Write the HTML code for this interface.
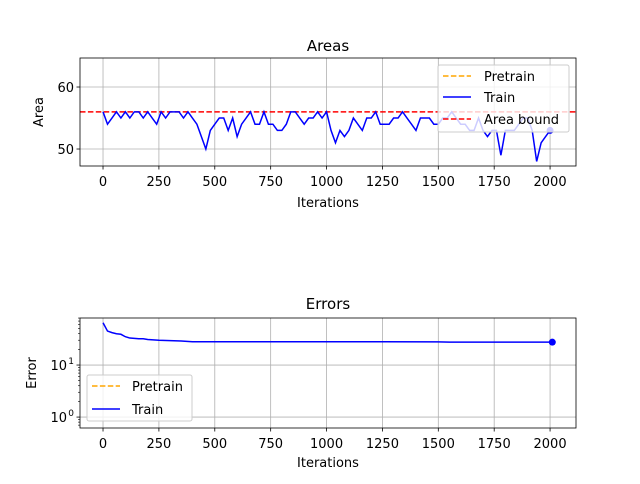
<!DOCTYPE html>
<html><head><meta charset="utf-8"><style>
body{margin:0;background:#fff;font-family:"DejaVu Sans","Liberation Sans",sans-serif}
svg text{font-family:"DejaVu Sans","Liberation Sans",sans-serif;fill:#000}
</style></head><body>
<svg id="c" width="640" height="480" xmlns="http://www.w3.org/2000/svg"></svg>
<script>
const areaIters=[];for(let i=0;i<=100;i++)areaIters.push(i*20);
const areaValues=[56,54,55,56,55,56,55,56,56,55,56,55,54,56,55,56,56,56,55,56,55,54,52,50,53,54,55,55,53,55,52,54,55,56,54,54,56,54,54,53,53,54,56,56,55,54,55,55,56,55,56,53,51,53,52,53,55,54,53,55,55,56,54,54,54,55,55,56,55,54,53,55,55,55,54,54,55,55,56,55,54,54,53,53,55,53,52,53,53,49,53,53,53,54,55,55,53,48,51,52,53];
const areaBound=56;
const errIters=[0,20,40,60,80,100,120,140,160,180,200,250,300,350,400,450,500,750,1000,1250,1500,1550,1750,2000,2010];
const errValues=[65,45,42,40,39,35,33,32.5,32,32,31,30,29.5,29,28,28,28,28,28,28,27.8,27.5,27.5,27.5,27.5];
const xTicks=[0,250,500,750,1000,1250,1500,1750,2000];
const areaYTicks=[50,60];
const errYTicks=[0,1];
const NS="http://www.w3.org/2000/svg";const svg=document.getElementById('c');
function el(t,a,p){const e=document.createElementNS(NS,t);for(const k in a)e.setAttribute(k,a[k]);(p||svg).appendChild(e);return e;}
function txt(x,y,s,a,p,fs){const e=el('text',Object.assign({x:x,y:y},a||{}),p);e.style.fontSize=(fs||13)+'px';e.textContent=s;return e;}
const L=80,R=576;const xmin=-103,xmax=2116;
const X=v=>L+(v-xmin)/(xmax-xmin)*(R-L);
const T1=58,B1=166,ymin=47.26,ymax=64.68;
const Y1=v=>B1-(v-ymin)/(ymax-ymin)*(B1-T1);
const T2=318,B2=428,lmin=-0.21,lmax=1.904;
const Y2=v=>B2-(Math.log10(v)-lmin)/(lmax-lmin)*(B2-T2);
function axes(T,B,name){
 const g=el('g',{});
 xTicks.forEach(t=>{el('line',{x1:X(t),x2:X(t),y1:T,y2:B,stroke:'#b0b0b0','stroke-width':0.8},g);
  el('line',{x1:X(t),x2:X(t),y1:B,y2:B+3.5,stroke:'#000','stroke-width':0.8},g);
  const tx=txt(X(t),B+20,String(t),{'text-anchor':'middle'},g);});
 return g;}
const g1=axes(T1,B1,'areas-axes');
areaYTicks.forEach(t=>{el('line',{x1:L,x2:R,y1:Y1(t),y2:Y1(t),stroke:'#b0b0b0','stroke-width':0.8},g1);
 el('line',{x1:L-3.5,x2:L,y1:Y1(t),y2:Y1(t),stroke:'#000','stroke-width':0.8},g1);
 txt(L-6,Y1(t)+5,String(t),{'text-anchor':'end'},g1);});
el('line',{x1:L,x2:R,y1:Y1(areaBound),y2:Y1(areaBound),stroke:'red','stroke-width':1.5,'stroke-dasharray':'5.5,2.4'},g1);
const p1=el('polyline',{points:areaIters.map((v,i)=>X(v)+','+Y1(areaValues[i])).join(' '),fill:'none',stroke:'blue','stroke-width':1.5},g1);

el('circle',{cx:X(areaIters[100]),cy:Y1(areaValues[100]),r:3.5,fill:'blue'},g1);
el('rect',{x:L,y:T1,width:R-L,height:B1-T1,fill:'none',stroke:'#000','stroke-width':0.8},g1);
txt(328,51,'Areas',{'text-anchor':'middle'},null,15);
txt(328,207,'Iterations',{'text-anchor':'middle'});
txt(43,112,'Area',{'text-anchor':'middle',transform:'rotate(-90 43 112)'});
const lg=el('g',{});
el('rect',{x:438,y:65,width:131,height:67,rx:2,fill:'#fff','fill-opacity':0.8,stroke:'#ccc'},lg);
[['Pretrain','orange','5.5,2.4',81],['Train','blue','',102],['Area bound','red','5.5,2.4',124]].forEach(([n,c,d,y])=>{
 el('line',{x1:443,x2:471,y1:y-5,y2:y-5,stroke:c,'stroke-width':1.5,'stroke-dasharray':d||'none'},lg);txt(484,y,n,{},lg,13);});
const g2=axes(T2,B2,'errors-axes');
errYTicks.forEach(t=>{const y=Y2(Math.pow(10,t));el('line',{x1:L,x2:R,y1:y,y2:y,stroke:'#b0b0b0','stroke-width':0.8},g2);
 el('line',{x1:L-3.5,x2:L,y1:y,y2:y,stroke:'#000','stroke-width':0.8},g2);
 const tx=txt(L-13,y+5,'10',{'text-anchor':'end'},g2,13);const s=el('tspan',{x:L-6,dy:-6},tx);s.style.fontSize='9px';s.textContent=String(t);});
for(let d=-1;d<2;d++)for(let m=2;m<10;m++){const v=m*Math.pow(10,d);const y=Y2(v);if(y>T2&&y<B2)el('line',{x1:L-2,x2:L,y1:y,y2:y,stroke:'#000','stroke-width':0.6},g2);}
const p2=el('polyline',{points:errIters.map((v,i)=>X(v)+','+Y2(errValues[i])).join(' '),fill:'none',stroke:'blue','stroke-width':1.5},g2);

el('circle',{cx:X(errIters[errIters.length-1]),cy:Y2(errValues[errValues.length-1]),r:3.5,fill:'blue'},g2);
el('rect',{x:L,y:T2,width:R-L,height:B2-T2,fill:'none',stroke:'#000','stroke-width':0.8},g2);
txt(328,309,'Errors',{'text-anchor':'middle'},null,15);
txt(328,467,'Iterations',{'text-anchor':'middle'});
txt(36,373,'Error',{'text-anchor':'middle',transform:'rotate(-90 36 373)'});
const lg2=el('g',{});
el('rect',{x:87,y:375,width:105,height:46,rx:2,fill:'#fff','fill-opacity':0.8,stroke:'#ccc'},lg2);
[['Pretrain','orange','5.5,2.4',391],['Train','blue','',414]].forEach(([n,c,d,y])=>{
 el('line',{x1:92,x2:120,y1:y-5,y2:y-5,stroke:c,'stroke-width':1.5,'stroke-dasharray':d||'none'},lg2);txt(132,y,n,{},lg2,13);});
</script></body></html>
